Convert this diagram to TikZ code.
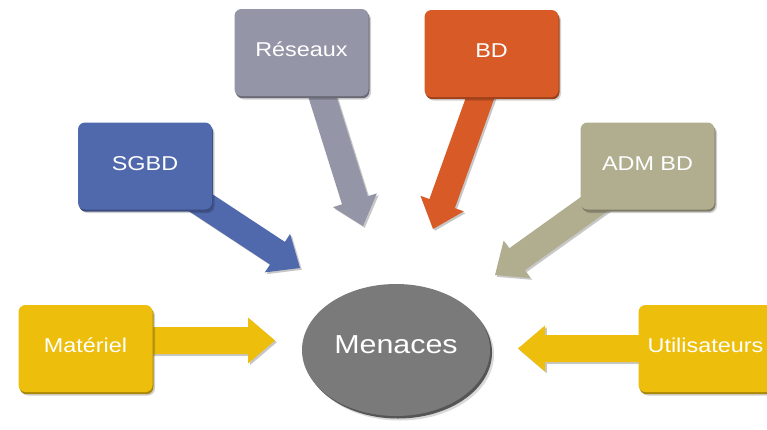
\documentclass[tikz,border=0pt]{standalone}
\usepackage{fontspec}
\newfontfamily\lab[FakeStretch=1.17]{Liberation Sans}
\usetikzlibrary{calc,shapes.geometric,shadows,backgrounds}

\definecolor{gold}{HTML}{EDBE0B}
\definecolor{blu}{HTML}{5069AD}
\definecolor{gry}{HTML}{9495A7}
\definecolor{ora}{HTML}{D85A27}
\definecolor{kha}{HTML}{B0AE8F}
\definecolor{mid}{HTML}{7A7A7A}

\newcommand\aw{13.5pt}% half shaft width
\newcommand\ah{23pt}% half head width
\newcommand\al{27pt}% head length

% #1 name, #2 style, #3 from, #4 tip
\newcommand\blockarrow[4]{%
  \coordinate (#1b) at ($(#4)!\al!(#3)$);
  \path[#2] ($(#3)!\aw!90:(#4)$) -- ($(#1b)!\aw!-90:(#3)$) -- ($(#1b)!\ah!-90:(#3)$)
    -- (#4) -- ($(#1b)!\ah!90:(#3)$) -- ($(#1b)!\aw!90:(#3)$) -- ($(#3)!\aw!-90:(#4)$) -- cycle;
}

\tikzset{
  box/.style={rectangle, rounded corners=7pt, minimum width=134pt, minimum height=87pt,
    inner sep=0pt, fill=#1, text=white, font=\lab\fontsize{20}{24}\selectfont,
    text height=14.3pt, text depth=6pt,
    drop shadow={shadow xshift=2.5pt, shadow yshift=-3.5pt, fill=black, opacity=.18},
    drop shadow={shadow xshift=1pt, shadow yshift=-2.2pt, fill=#1!72!black, opacity=1}},
  disc/.style={ellipse, minimum width=188pt, minimum height=132pt, inner sep=0pt,
    fill=mid, text=white, font=\lab\fontsize{26}{30}\selectfont,
    text height=18.6pt, text depth=12pt,
    drop shadow={shadow xshift=4pt, shadow yshift=-4.5pt, fill=black, opacity=.15},
    drop shadow={shadow xshift=2pt, shadow yshift=-2.5pt, fill=mid!70!black, opacity=1}},
  barrow/.style={fill=#1,
    drop shadow={shadow xshift=1.8pt, shadow yshift=-1.8pt, fill=black, opacity=.22}}
}

\begin{document}
\begin{tikzpicture}[x=1pt,y=-1pt]
\useasboundingbox (0,0) rectangle (767,429);

\node[box=gold] (mat) at (85.5,348.5) {Matériel};
\node[box=blu] (sgbd) at (145,166) {SGBD};
\node[box=gry] (res) at (301.5,52.5) {Réseaux};
\node[box=ora] (bd) at (491.5,53.5) {BD};
\node[box=kha] (adm) at (647.5,166) {ADM BD};
\node[box=gold] (util) at (705.5,348.5) {Utilisateurs};
\node[disc] (men) at (396,350) {Menaces};

\coordinate (matS) at ([yshift=8pt]mat.center);
\coordinate (resS) at ([xshift=7pt]res.center);
\coordinate (bdS) at ([xshift=4.5pt]bd.center);
\coordinate (tipM) at (275,340.5);
\coordinate (tipU) at (518,348.5);
\coordinate (tipS) at (300,268);
\coordinate (tipR) at (363,226);
\coordinate (tipB) at (433,229);
\coordinate (tipA) at (495,275);

\begin{scope}[on background layer]
  \fill[white] (0,0) rectangle (767,429);
  \blockarrow{am}{barrow=gold}{matS}{tipM}
  \blockarrow{au}{barrow=gold}{util.center}{tipU}
  \blockarrow{as}{barrow=blu}{sgbd.center}{tipS}
  \blockarrow{ar}{barrow=gry}{resS}{tipR}
  \blockarrow{ab}{barrow=ora}{bdS}{tipB}
  \blockarrow{aa}{barrow=kha}{adm.center}{tipA}
\end{scope}
\end{tikzpicture}
\end{document}
